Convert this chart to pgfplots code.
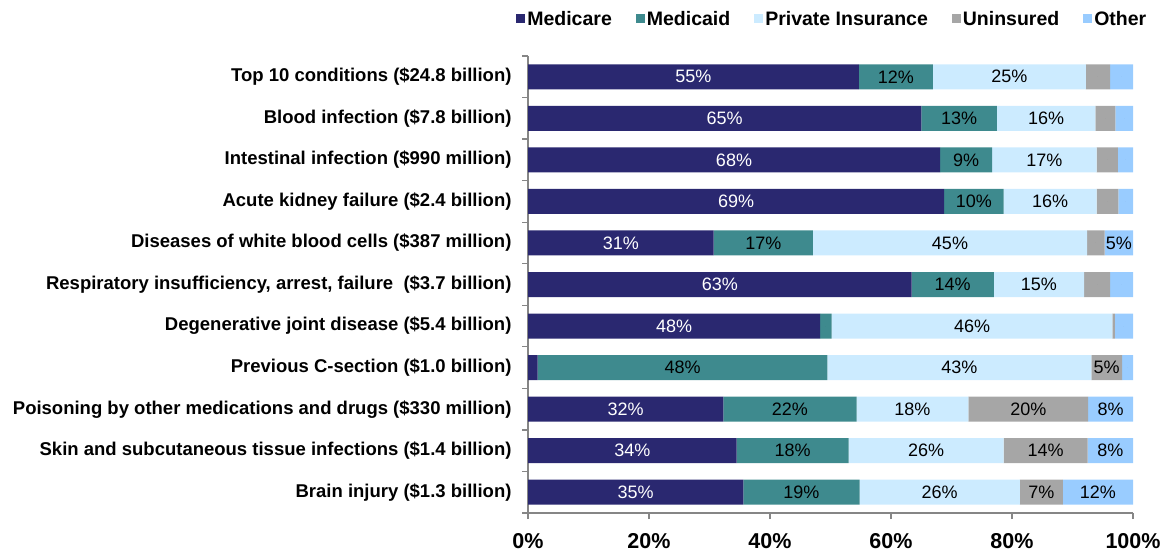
\documentclass[border=0pt]{standalone}
\usepackage{fontspec}
\setmainfont{Liberation Sans}
\usepackage{pgfplots}
\pgfplotsset{compat=1.18}
\usepackage{pgfplotstable}
\definecolor{cMedicare}{HTML}{2A2870}
\definecolor{cMedicaid}{HTML}{3E8A8E}
\definecolor{cPrivate}{HTML}{CCEBFF}
\definecolor{cUninsured}{HTML}{A6A6A6}
\definecolor{cOther}{HTML}{99CCFF}
\definecolor{axisgray}{HTML}{868686}

\pgfplotstableread{
y med mcd prv uni oth lmed lmcd lprv luni loth
0 54.7 12.2 25.3 4.0 3.8 55 12 25 0 0
1 65.0 12.5 16.3 3.3 2.9 65 13 16 0 0
2 68.1 8.6 17.3 3.5 2.5 68 9 17 0 0
3 68.8 9.8 15.4 3.6 2.4 69 10 16 0 0
4 30.7 16.4 45.3 2.9 4.7 31 17 45 0 5
5 63.4 13.6 14.9 4.3 3.8 63 14 15 0 0
6 48.3 1.9 46.4 0.4 3.0 48 0 46 0 0
7 1.6 47.9 43.6 5.1 1.8 0 48 43 5 0
8 32.3 22.0 18.5 19.8 7.4 32 22 18 20 8
9 34.5 18.5 25.6 13.9 7.5 34 18 26 14 8
10 35.6 19.2 26.5 7.1 11.6 35 19 26 7 12
}\data

\pgfplotsset{
  common/.style={at={(528pt,42pt)}, anchor=south west,
    scale only axis, width=605pt, height=457pt,
    xmin=0, xmax=100, ymin=-0.5, ymax=10.5, y dir=reverse, clip=false},
  lbl/.style={only marks, mark=*, mark size=0pt,
    mark options={draw=none,fill=none},
    point meta=explicit symbolic,
    nodes near coords={\ifnum\pgfplotspointmeta=0 \else\pgfplotspointmeta\%\fi},
    every node near coord/.append style={anchor=center, inner sep=0pt,
      font=\fontsize{18}{20}\selectfont, text=#1}}}

\begin{document}
\begin{tikzpicture}
\useasboundingbox (0,0) rectangle (1164pt,555pt);
\begin{axis}[
  common,
  xbar stacked, bar width=25pt,
  axis x line*=bottom, axis y line*=left,
  axis line style={draw=axisgray, line width=1.2pt},
  tick align=outside, major tick length=6pt,
  xtick={0,20,...,100},
  xticklabels={0\%,20\%,40\%,60\%,80\%,100\%},
  xtick style={draw=axisgray, line width=1.2pt},
  xticklabel style={font=\fontsize{21.5}{23}\selectfont\bfseries, yshift=-11pt},
  ytick={-0.5,0.5,...,10.5},
  yticklabels={},
  ytick style={draw=axisgray, line width=1.2pt},
  extra y ticks={0,...,10},
  extra y tick labels={
    {Top 10 conditions (\$24.8 billion)},
    {Blood infection (\$7.8 billion)},
    {Intestinal infection (\$990 million)},
    {Acute kidney failure (\$2.4 billion)},
    {Diseases of white blood cells (\$387 million)},
    {Respiratory insufficiency, arrest, failure\ \ (\$3.7 billion)},
    {Degenerative joint disease (\$5.4 billion)},
    {Previous C-section (\$1.0 billion)},
    {Poisoning by other medications and drugs (\$330 million)},
    {Skin and subcutaneous tissue infections (\$1.4 billion)},
    {Brain injury (\$1.3 billion)}},
  extra y tick style={major tick length=0pt, ytick style={draw=none},
    yticklabel style={font=\fontsize{18.5}{20}\selectfont\bfseries, xshift=-13pt}},
  legend columns=5,
  legend style={at={(0.503,1.081)}, anchor=center, draw=none, fill=none,
    font=\fontsize{19.5}{21}\selectfont\bfseries,
    /tikz/every even column/.append style={column sep=22pt}},
  legend image code/.code={\fill[#1] (0pt,-4.5pt) rectangle (9pt,4.5pt);},
]
\addplot[fill=cMedicare, draw=none] table[x=med, y=y] {\data};
\addplot[fill=cMedicaid, draw=none] table[x=mcd, y=y] {\data};
\addplot[fill=cPrivate, draw=none] table[x=prv, y=y] {\data};
\addplot[fill=cUninsured, draw=none] table[x=uni, y=y] {\data};
\addplot[fill=cOther, draw=none] table[x=oth, y=y] {\data};
\legend{Medicare,Medicaid,Private Insurance,Uninsured,Other}
\end{axis}
\begin{axis}[common, hide axis]
\addplot[lbl=white] table[x expr=\thisrow{med}/2, y=y, meta=lmed] {\data};
\addplot[lbl=black] table[x expr=\thisrow{med}+\thisrow{mcd}/2, y=y, meta=lmcd] {\data};
\addplot[lbl=black] table[x expr=\thisrow{med}+\thisrow{mcd}+\thisrow{prv}/2, y=y, meta=lprv] {\data};
\addplot[lbl=black] table[x expr=\thisrow{med}+\thisrow{mcd}+\thisrow{prv}+\thisrow{uni}/2, y=y, meta=luni] {\data};
\addplot[lbl=black] table[x expr=\thisrow{med}+\thisrow{mcd}+\thisrow{prv}+\thisrow{uni}+\thisrow{oth}/2, y=y, meta=loth] {\data};
\end{axis}
\end{tikzpicture}
\end{document}
